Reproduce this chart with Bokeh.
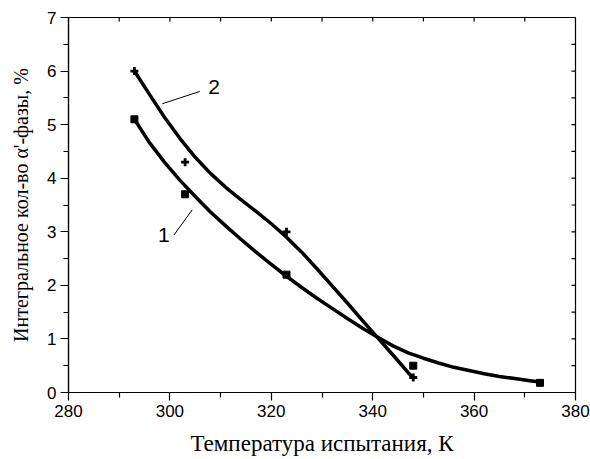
from bokeh.plotting import figure
from bokeh.models import FixedTicker, Range1d
from bokeh.core.properties import value
from bokeh.embed import file_html
from bokeh.resources import INLINE

# measured points
t1 = [293, 303, 323, 348, 373]
y1 = [5.1, 3.7, 2.2, 0.5, 0.18]
t2 = [293, 303, 323, 348]
y2 = [6.0, 4.3, 3.0, 0.28]

# fitted curves
c1_x = [293, 296, 299, 302, 305, 308, 311, 314, 317, 320, 323, 326, 329, 332, 335,
        338, 341, 344, 347, 350, 353, 356, 359, 362, 365, 368, 371, 373]
c1_y = [5.10, 4.66, 4.29, 3.96, 3.66, 3.37, 3.11, 2.86, 2.62, 2.39, 2.17, 1.96, 1.76,
        1.57, 1.38, 1.20, 1.03, 0.87, 0.74, 0.64, 0.55, 0.47, 0.41, 0.35, 0.30, 0.26,
        0.22, 0.195]
c2_x = [293, 296, 299, 302, 305, 308, 311, 314, 317, 320, 323, 326, 329, 332, 335,
        338, 341, 344, 347, 347.8]
c2_y = [6.00, 5.56, 5.13, 4.74, 4.39, 4.09, 3.83, 3.60, 3.38, 3.15, 2.90, 2.62, 2.31,
        1.99, 1.67, 1.34, 1.02, 0.70, 0.37, 0.29]

# curve labels and leader lines
lab_text = ["1", "2"]
lab_x = [298.8, 308.7]
lab_y = [2.94, 5.71]
lead1_x = [300.8, 304.4]
lead1_y = [2.94, 3.41]
lead2_x = [298.5, 305.9]
lead2_y = [5.39, 5.62]

x_ticks = [280, 300, 320, 340, 360, 380]
x_minor = [290, 310, 330, 350, 370]
y_ticks = [0, 1, 2, 3, 4, 5, 6, 7]
y_minor = [0.5, 1.5, 2.5, 3.5, 4.5, 5.5, 6.5]

W, H = 590, 459
BL, BR, BT, BB = 68, 15, 17, 67
x0, x1, y0, y1r = 280, 380, 0, 7

p = figure(width=W, height=H, output_backend="svg", toolbar_location=None,
           x_range=Range1d(x0, x1), y_range=Range1d(y0, y1r),
           min_border_left=BL, min_border_right=BR, min_border_top=BT, min_border_bottom=BB)
p.grid.visible = False
p.outline_line_color = "black"
p.outline_line_width = 1.2
p.background_fill_color = "white"
p.border_fill_color = "white"

sans = "Liberation Sans"
serif = "Liberation Serif"

for ax, ticks, minor in [(p.xaxis[0], x_ticks, x_minor), (p.yaxis[0], y_ticks, y_minor)]:
    ax.ticker = FixedTicker(ticks=ticks, minor_ticks=minor)
    ax.major_tick_out = 8
    ax.major_tick_in = 0
    ax.minor_tick_out = 5
    ax.minor_tick_in = 0
    ax.axis_line_width = 1.2
    ax.major_tick_line_width = 1.2
    ax.minor_tick_line_width = 1.2
    ax.major_label_text_font = sans
    ax.major_label_text_font_size = "17px"
    ax.major_label_text_color = "black"
    ax.axis_label_text_font = serif
    ax.axis_label_text_font_style = "normal"
    ax.axis_label_text_color = "black"
    ax.major_label_standoff = 4

p.xaxis.axis_label = "Температура испытания, К"
p.yaxis.axis_label = "Интегральное кол-во α'-фазы, %"
p.xaxis.axis_label_text_font_size = "23px"
p.yaxis.axis_label_text_font_size = "20px"
p.xaxis.axis_label_standoff = 11
p.yaxis.axis_label_standoff = 12

# inward ticks on the top and right frame edges
tick_px = 4
dy = tick_px * (y1r - y0) / (H - BT - BB)
dx = tick_px * (x1 - x0) / (W - BL - BR)
top_x = sorted(x_ticks + x_minor)
right_y = sorted(y_ticks + y_minor)
p.segment(x0=top_x, y0=[y1r] * len(top_x), x1=top_x, y1=[y1r - dy] * len(top_x),
          line_color="black", line_width=1.2)
p.segment(x0=[x1] * len(right_y), y0=right_y, x1=[x1 - dx] * len(right_y), y1=right_y,
          line_color="black", line_width=1.2)

p.line(c1_x, c1_y, line_color="black", line_width=3.5, line_join="round", line_cap="round")
p.line(c2_x, c2_y, line_color="black", line_width=3.5, line_join="round", line_cap="round")
p.scatter(t1, y1, marker="square", size=7, color="black")
p.scatter(t2, y2, marker="cross", size=8, line_color="black", line_width=2.8)

p.line(lead1_x, lead1_y, line_color="black", line_width=1)
p.line(lead2_x, lead2_y, line_color="black", line_width=1)
p.text(lab_x, lab_y, text=lab_text, text_font=value(sans), text_font_size="21px",
       text_align="center", text_baseline="middle", text_color="black")

open("out.html", "w").write(file_html(p, INLINE))
